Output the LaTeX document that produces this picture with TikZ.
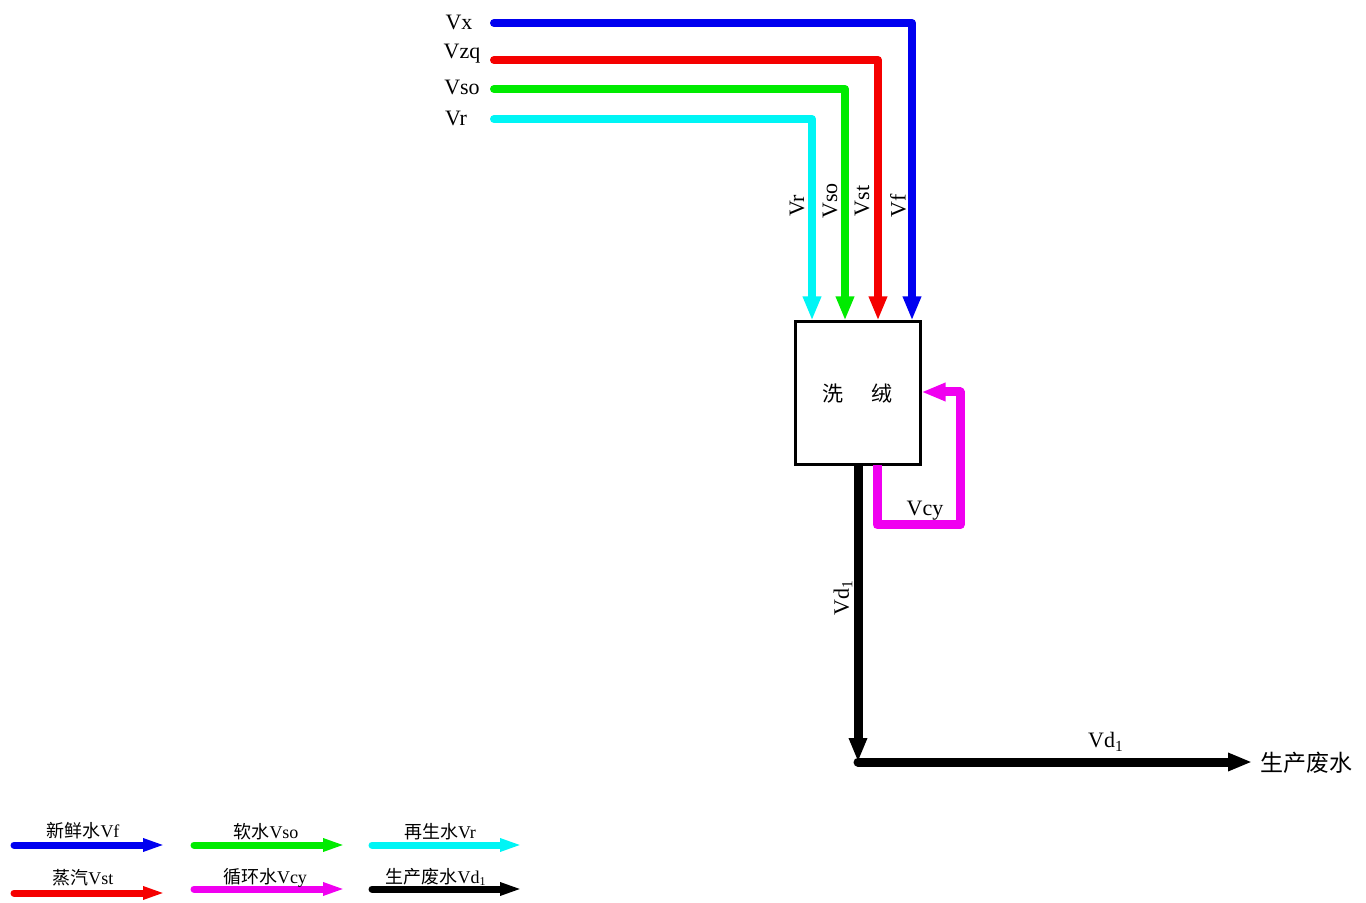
\documentclass[tikz,border=0pt]{standalone}
\usepackage{fontspec}
\setmainfont{Liberation Serif}
\newfontfamily\cjk{Noto Sans CJK SC}
\usetikzlibrary{arrows.meta}
\definecolor{fresh}{RGB}{0,0,240}
\definecolor{steam}{RGB}{245,0,0}
\definecolor{soft}{RGB}{0,235,0}
\definecolor{reuse}{RGB}{0,245,245}
\definecolor{cycle}{RGB}{240,0,240}
\newcommand{\zh}[1]{{\cjk #1}}

\begin{document}
\begin{tikzpicture}[x=0.5pt,y=-0.5pt,
  pipe/.style={line width=4pt,line join=round,line cap=round,-{Triangle[length=12pt,width=8.5pt]}},
  keypipe/.style={line width=3.5pt,line cap=round,-{Triangle[length=11pt,width=6pt]}},
  lbl/.style={font=\fontsize{11}{12}\selectfont,inner sep=1pt},
  vlbl/.style={lbl,rotate=90},
  keylbl/.style={font=\fontsize{9}{10}\selectfont,inner sep=1pt}]
\useasboundingbox (0,0) rectangle (1366,903);
% box
\node[draw,line width=1.5pt,minimum width=62.5pt,minimum height=71.5pt,inner sep=0pt,
  font=\fontsize{10.5}{12}\selectfont] (wash) at (857.5,393.5) {\raisebox{-2pt}{\zh{洗}\hspace{14pt}\zh{绒}}};
% incoming
\node[lbl] (vx) at (459,22) {Vx};
\node[lbl] (vzq) at (462,54) {Vzq};
\node[lbl] (vso) at (462,87) {Vso};
\node[lbl] (vr) at (456,118) {Vr};
\coordinate (xs) at (494,23);\coordinate (xc) at (912,23);
\coordinate (zs) at (494,60);\coordinate (zc) at (878,60);
\coordinate (ss) at (494,89);\coordinate (sc) at (845,89);
\coordinate (rs) at (494,119);\coordinate (rc) at (812,119);
\draw[pipe,fresh] (xs) -- (xc) -- (xc |- wash.north);
\draw[pipe,steam] (zs) -- (zc) -- (zc |- wash.north);
\draw[pipe,soft] (ss) -- (sc) -- (sc |- wash.north);
\draw[pipe,reuse] (rs) -- (rc) -- (rc |- wash.north);
\node[vlbl] (lr) at (797,206) {Vr};
\node[vlbl] (lso) at (830,201) {Vso};
\node[vlbl] (lst) at (862,201) {Vst};
\node[vlbl] (lf) at (898,206) {Vf};
% recycle
\coordinate (cs) at (877,465);\coordinate (c1) at (877,525);
\coordinate (c2) at (960,525);\coordinate (c3) at (960,392);
\draw[pipe,cycle,line width=4.5pt,line cap=butt] (cs) -- (c1) -- (c2) -- (c3) -- (c3 -| wash.east);
\node[lbl] (lcy) at (925,511) {Vcy};
% waste
\coordinate (ds) at (858,465);\coordinate (dc) at (858,762);\coordinate (de) at (1252,762);
\draw[pipe,black,line width=4.5pt,line cap=butt] (ds) -- (dc);
\draw[pipe,black,line width=4.5pt] (dc) -- (de);
\node[vlbl] (ld1) at (843,598) {Vd\textsubscript{1}};
\node[lbl] (ld2) at (1106,742) {Vd\textsubscript{1}};
\node[lbl,font=\fontsize{11.5}{12}\selectfont,anchor=west] (waste) at (1258,763) {\zh{生产废水}};
% legend
\draw[keypipe,fresh] (14,845) -- (165,845);
\draw[keypipe,soft] (194,845) -- (345,845);
\draw[keypipe,reuse] (372,845) -- (522,845);
\draw[keypipe,steam] (14,893) -- (165,893);
\draw[keypipe,cycle] (194,889) -- (345,889);
\draw[keypipe,black] (372,889) -- (522,889);
\node[keylbl] (kf) at (83,831) {\zh{新鲜水}Vf};
\node[keylbl] (kso) at (266,832) {\zh{软水}Vso};
\node[keylbl] (kr) at (440,832) {\zh{再生水}Vr};
\node[keylbl] (kst) at (83,878) {\zh{蒸汽}Vst};
\node[keylbl] (kcy) at (265,878) {\zh{循环水}Vcy};
\node[keylbl] (kd) at (436,877) {\zh{生产废水}Vd\textsubscript{1}};
\end{tikzpicture}
\end{document}
